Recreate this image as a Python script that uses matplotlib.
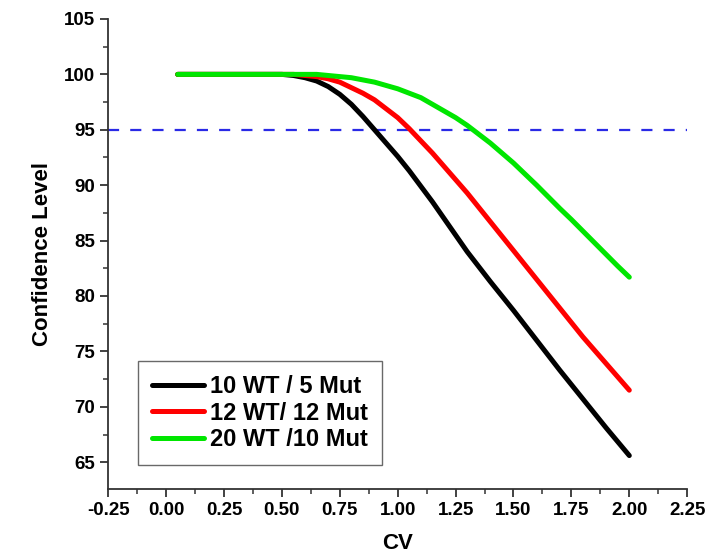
import matplotlib
matplotlib.use('Agg')
import matplotlib.pyplot as plt
from matplotlib.ticker import MultipleLocator, FormatStrFormatter

plt.rcParams['font.family'] = ['Liberation Sans', 'DejaVu Sans']
plt.rcParams['font.weight'] = 'bold'

# CV values (x) and confidence levels
cv = [0.05, 0.50, 0.55, 0.60, 0.65, 0.70, 0.75, 0.80, 0.85, 0.90, 0.95,
      1.00, 1.05, 1.10, 1.15, 1.20, 1.25, 1.30, 1.35, 1.40, 1.45,
      1.50, 1.55, 1.60, 1.65, 1.70, 1.75, 1.80, 1.85, 1.90, 1.95, 2.00]
wt10_mut5 = [100, 100, 99.9, 99.7, 99.4, 98.9, 98.2, 97.3, 96.2, 95.0, 93.8,
             92.6, 91.3, 89.9, 88.5, 87.0, 85.5, 84.0, 82.65, 81.3, 80.0,
             78.7, 77.35, 76.0, 74.65, 73.3, 72.0, 70.7, 69.4, 68.1, 66.85, 65.6]
wt12_mut12 = [100, 100, 100, 99.9, 99.8, 99.6, 99.3, 98.8, 98.3, 97.7, 96.9,
              96.1, 95.1, 94.0, 92.9, 91.7, 90.5, 89.3, 88.0, 86.7, 85.4,
              84.1, 82.8, 81.5, 80.2, 78.9, 77.6, 76.3, 75.1, 73.9, 72.7, 71.5]
wt20_mut10 = [100, 100, 100, 100, 100, 99.9, 99.8, 99.7, 99.5, 99.3, 99.0,
              98.7, 98.3, 97.9, 97.3, 96.7, 96.1, 95.4, 94.6, 93.8, 92.9,
              92.0, 91.0, 90.0, 88.95, 87.9, 86.9, 85.85, 84.8, 83.75, 82.7, 81.7]
labels = ['10 WT / 5 Mut', '12 WT/ 12 Mut', '20 WT /10 Mut']
colors = ['black', '#ff0000', '#00e600']
threshold = 95

fig = plt.figure(figsize=(7.07, 5.58), dpi=100)
ax = fig.add_axes([0.153, 0.124, 0.819, 0.842])

ax.axhline(threshold, color='#2a2ae6', lw=1.6, dashes=(5, 5))
for ys, lab, c in zip([wt10_mut5, wt12_mut12, wt20_mut10], labels, colors):
    ax.plot(cv, ys, color=c, lw=3.6, label=lab, solid_capstyle='round')

ax.set_xlim(-0.25, 2.25)
ax.set_ylim(62.6, 105)
ax.xaxis.set_major_locator(MultipleLocator(0.25))
ax.xaxis.set_minor_locator(MultipleLocator(0.125))
ax.yaxis.set_major_locator(MultipleLocator(5))
ax.yaxis.set_minor_locator(MultipleLocator(2.5))
ax.xaxis.set_major_formatter(FormatStrFormatter('%.2f'))

ax.spines['top'].set_visible(False)
ax.spines['right'].set_visible(False)
for s in ['left', 'bottom']:
    ax.spines[s].set_linewidth(1.3)
    ax.spines[s].set_color('#333333')
ax.tick_params(which='major', direction='out', length=6, width=1.3,
               labelsize=13.5, color='#333333')
ax.tick_params(which='minor', direction='out', length=3.5, width=1.1,
               color='#333333')

ax.set_xlabel('CV', fontsize=16, fontweight='bold', labelpad=10)
ax.set_ylabel('Confidence Level', fontsize=16, fontweight='bold', labelpad=8)

leg = ax.legend(loc='lower left', bbox_to_anchor=(0.052, 0.05),
                fontsize=17, frameon=True, fancybox=False,
                handlelength=2.2, handletextpad=0.25, labelspacing=0.15,
                borderpad=0.6, borderaxespad=0)
leg.get_frame().set_edgecolor('#444444')
leg.get_frame().set_linewidth(1.0)
for t in leg.get_texts():
    t.set_fontweight('bold')

fig.savefig('out.png', dpi=100)
